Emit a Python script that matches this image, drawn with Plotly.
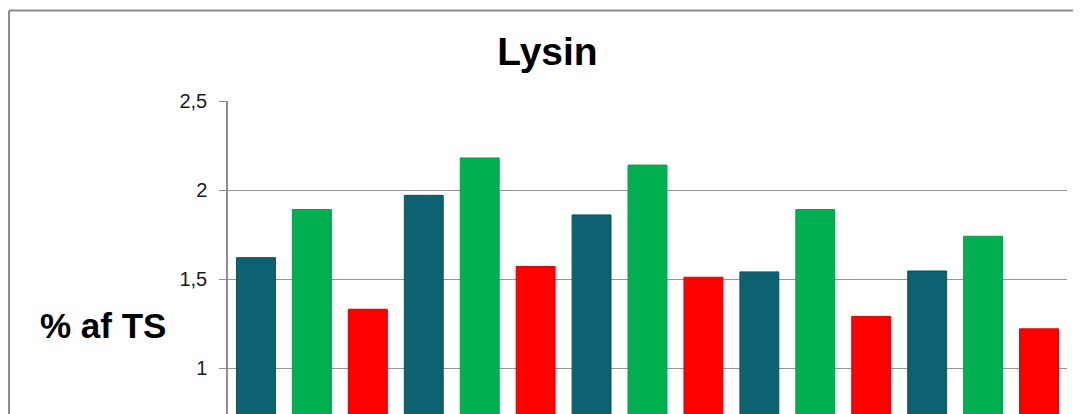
import plotly.graph_objects as go

categories = ["1", "2", "3", "4", "5"]
series_names = ["Serie 1", "Serie 2", "Serie 3"]
teal_values = [1.62, 1.97, 1.86, 1.54, 1.545]
green_values = [1.89, 2.18, 2.14, 1.89, 1.74]
red_values = [1.33, 1.57, 1.51, 1.29, 1.22]
colors = ["#0D6170", "#00B050", "#FF0000"]
edge_colors = ["#0B5560", "#00A048", "#E00000"]
y_ticks = [1, 1.5, 2, 2.5]

# page body has an 8px default margin; compensate so page coords match the reference
OFF = 8
W, H = 1081 - OFF, 414 - OFF
L, R, T, B = 228 - OFF, 14, 101 - OFF, 0
pw, ph = W - L - R, H - T - B

def px_x(px):
    return (px - OFF - L) / pw

def px_y(py):
    return (H - B - (py - OFF)) / ph

fig = go.Figure()
for name, vals, c, ec in zip(series_names, [teal_values, green_values, red_values], colors, edge_colors):
    fig.add_trace(go.Bar(x=categories, y=vals, name=name, marker=dict(color=c, line=dict(color=ec, width=1))))

fig.update_layout(
    width=W, height=H,
    margin=dict(l=L, r=R, t=T, b=B, pad=0),
    paper_bgcolor="white", plot_bgcolor="white",
    barmode="group", bargap=0, bargroupgap=0.304,
    showlegend=False,
    separators=", ",
    font=dict(family="Liberation Sans, Arial, sans-serif", color="#000000"),
    title=dict(text="<b>Lysin</b>", font=dict(size=39, color="#000000"),
               x=(547.5 - OFF) / W, xref="container", xanchor="center",
               y=1 - (51 - OFF) / H, yref="container", yanchor="middle"),
    xaxis=dict(showticklabels=False, showgrid=False, showline=False, ticks="", automargin=False),
    yaxis=dict(range=[1 - (414 - 368) / 178, 2.5], tickvals=y_ticks,
               showgrid=True, gridcolor="#969696", gridwidth=1,
               showline=True, linecolor="#8C8C8C", linewidth=1.5,
               ticks="outside", ticklen=7, tickcolor="#8C8C8C", tickwidth=1,
               tickfont=dict(size=20, color="#1a1a1a"), ticklabelstandoff=8,
               zeroline=False, automargin=False),
    annotations=[dict(text="<b>% af TS</b>", xref="paper", yref="paper",
                      x=px_x(38), y=px_y(325), xanchor="left", yanchor="middle",
                      showarrow=False, font=dict(size=35, color="#000000"))],
    shapes=[
        dict(type="line", xref="paper", yref="paper", x0=px_x(9), x1=px_x(1090),
             y0=px_y(10.5), y1=px_y(10.5), line=dict(color="#8C8C8C", width=2)),
        dict(type="line", xref="paper", yref="paper", x0=px_x(9), x1=px_x(9),
             y0=px_y(10.5), y1=px_y(430), line=dict(color="#8C8C8C", width=2)),
    ],
)

fig.write_html("out.html")
